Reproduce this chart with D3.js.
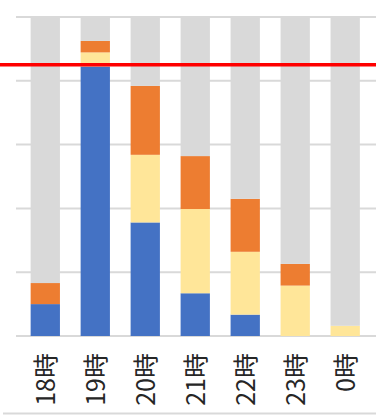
<!DOCTYPE html>
<html>
<head>
<meta charset="utf-8">
<script src="https://cdn.jsdelivr.net/npm/d3@7"></script>
<style>
  html, body { margin: 0; padding: 0; background: #fff; }
  svg { display: block; }
</style>
</head>
<body>
<svg id="chart" width="376" height="419"></svg>
<script>
// Hourly breakdown (percent of each hour), stacked from the bottom
const hours   = ["18時", "19時", "20時", "21時", "22時", "23時", "0時"];
const blue    = [10.0, 84.5, 35.6, 13.4, 6.7, 0, 0];
const yellow  = [0, 4.4, 21.2, 26.4, 19.7, 15.8, 3.2];
const orange  = [6.6, 3.6, 21.6, 16.6, 16.6, 6.8, 0];
const yTicks  = [0, 20, 40, 60, 80, 100];
const target  = 85;

const seriesKeys   = ["blue", "yellow", "orange", "rest"];
const seriesColors = ["#4472C4", "#FFE699", "#ED7D31", "#D9D9D9"];

const rows = hours.map((h, i) => ({
  hour: h,
  blue: blue[i],
  yellow: yellow[i],
  orange: orange[i],
  rest: 100 - blue[i] - yellow[i] - orange[i]
}));

const svg = d3.select("#chart");
const W = 376;
const plot = { left: 16, right: 374.5, top: 17, bottom: 336 };

const x = d3.scaleBand()
  .domain(hours)
  .range([plot.left, plot.right])
  .paddingInner(0.414)
  .paddingOuter(0.293);

const y = d3.scaleLinear()
  .domain([0, 100])
  .range([plot.bottom, plot.top]);

// horizontal gridlines
svg.append("g")
  .selectAll("line")
  .data(yTicks)
  .join("line")
  .attr("x1", plot.left)
  .attr("x2", W)
  .attr("y1", d => y(d))
  .attr("y2", d => y(d))
  .attr("stroke", "#D9D9D9")
  .attr("stroke-width", 2);

// stacked bars
const stacked = d3.stack().keys(seriesKeys)(rows);
svg.append("g")
  .selectAll("g")
  .data(stacked)
  .join("g")
  .attr("fill", (d, i) => seriesColors[i])
  .selectAll("rect")
  .data(d => d)
  .join("rect")
  .attr("x", d => x(d.data.hour))
  .attr("width", x.bandwidth())
  .attr("y", d => y(d[1]))
  .attr("height", d => y(d[0]) - y(d[1]));

// target line
svg.append("line")
  .attr("x1", 0)
  .attr("x2", W)
  .attr("y1", y(target))
  .attr("y2", y(target))
  .attr("stroke", "#FF0000")
  .attr("stroke-width", 3.5);

// category labels, rotated
svg.append("g")
  .selectAll("text")
  .data(hours)
  .join("text")
  .attr("transform", d => `translate(${x(d) + x.bandwidth() / 2 - 1},353) rotate(-90)`)
  .attr("text-anchor", "end")
  .attr("dominant-baseline", "central")
  .attr("font-family", "'Noto Sans CJK JP', 'Noto Sans', sans-serif")
  .attr("font-size", 25)
  .attr("fill", "#262626")
  .text(d => d);

// bottom border
svg.append("line")
  .attr("x1", 3)
  .attr("x2", W)
  .attr("y1", 413.5)
  .attr("y2", 413.5)
  .attr("stroke", "#D9D9D9")
  .attr("stroke-width", 2);
</script>
</body>
</html>
